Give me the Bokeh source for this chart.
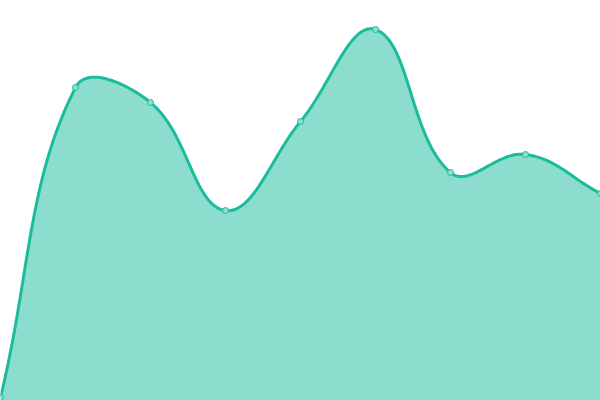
import numpy as np
from bokeh.plotting import figure
from bokeh.models import Range1d
from bokeh.embed import file_html
from bokeh.resources import INLINE

# data
x_values = [0, 75, 150, 225, 300, 375, 450, 525, 600]
y_values = [3, 313, 298, 190, 279, 371, 228, 246, 207]

LINE = "#1abc9c"
TENSION = 0.4


def spline_path(xs, ys, tension, steps=40):
    n = len(xs)
    pts = np.column_stack([xs, ys]).astype(float)
    cps = []
    for i in range(n):
        prev = pts[max(i - 1, 0)]
        cur = pts[i]
        nxt = pts[min(i + 1, n - 1)]
        d01 = np.hypot(*(cur - prev))
        d12 = np.hypot(*(nxt - cur))
        tot = d01 + d12
        s01 = d01 / tot if tot else 0
        s12 = d12 / tot if tot else 0
        fa = tension * s01
        fb = tension * s12
        cp_prev = cur - fa * (nxt - prev)
        cp_next = cur + fb * (nxt - prev)
        cps.append((cp_prev, cp_next))
    out_x, out_y = [pts[0][0]], [pts[0][1]]
    t = np.linspace(0, 1, steps)[1:]
    for i in range(n - 1):
        p0 = pts[i]
        p1 = cps[i][1]
        p2 = cps[i + 1][0]
        p3 = pts[i + 1]
        bx = ((1 - t) ** 3) * p0[0] + 3 * ((1 - t) ** 2) * t * p1[0] + 3 * (1 - t) * t ** 2 * p2[0] + t ** 3 * p3[0]
        by = ((1 - t) ** 3) * p0[1] + 3 * ((1 - t) ** 2) * t * p1[1] + 3 * (1 - t) * t ** 2 * p2[1] + t ** 3 * p3[1]
        out_x.extend(bx)
        out_y.extend(by)
    return np.array(out_x), np.array(out_y)


cx, cy = spline_path(x_values, y_values, TENSION)

p = figure(width=600, height=400, output_backend="svg", toolbar_location=None,
           x_range=Range1d(0, 600), y_range=Range1d(0, 400), min_border=0)
p.axis.visible = False
p.grid.visible = False
p.outline_line_color = None
p.background_fill_color = "white"

p.varea(x=cx, y1=np.zeros_like(cy), y2=cy, fill_color=LINE, fill_alpha=0.5)
p.line(cx, cy, line_color=LINE, line_width=3)
p.scatter(x_values, y_values, size=6, fill_color="#8be0cf", line_color=LINE, line_width=1)

open("out.html", "w").write(file_html(p, INLINE))
